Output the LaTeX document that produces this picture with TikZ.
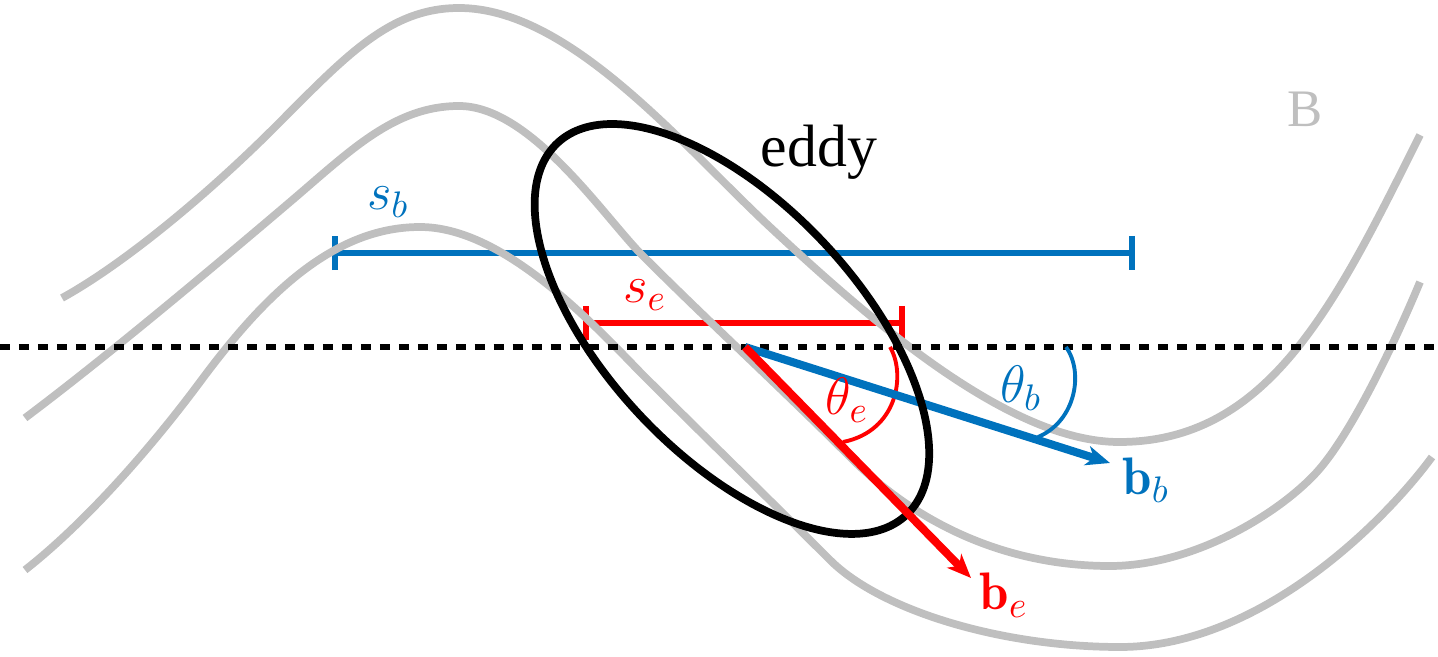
\RequirePackage{fix-cm}
\documentclass[tikz,border=0pt]{standalone}
\usepackage{fontspec}
\newfontfamily\timesfont{Liberation Serif}
\usetikzlibrary{arrows.meta}
\definecolor{fieldgray}{RGB}{191,191,191}
\definecolor{mblue}{RGB}{0,114,189}
\definecolor{mred}{RGB}{255,0,0}
\begin{document}
\begin{tikzpicture}[x=0.01cm,y=0.01cm,
  fieldline/.style={fieldgray, line width=2.2pt},
  refline/.style={black, line width=1.6pt, dash pattern=on 2.8pt off 2.6pt},
  scalebar/.style={line width=1.7pt, {Bar[width=9.7pt]}-{Bar[width=9.7pt]}},
  vec/.style={line width=2.3pt, -{Stealth[length=6.8pt,width=5.6pt,inset=2pt]}},
  anglearc/.style={line width=1.1pt},
  eddyline/.style={black, line width=2.2pt},
  mathlbl/.style={font=\fontsize{15}{18}\selectfont, inner sep=0pt},
  textlbl/.style={font=\timesfont\fontsize{17}{20}\selectfont, inner sep=0pt}]
\useasboundingbox (0,0) rectangle (1438,657);
% named points
\coordinate (O) at (745,310);
\coordinate (Bb) at (1110,194);
\coordinate (Be) at (971,79);
\coordinate (dl) at (0,310);
\coordinate (dr) at (1438,310);
\coordinate (sbl) at (332,404);
\coordinate (sbr) at (1135,404);
\coordinate (sel) at (583,334);
\coordinate (ser) at (905,334);
\coordinate (E) at (732,328);
% scale bars
\draw[scalebar, mblue] (sbl) -- (sbr);
\draw[scalebar, mred] (sel) -- (ser);
% field lines
\draw[fieldline] (62,359) .. controls (122,392) and (205,460) .. (275,530)
  .. controls (345,600) and (389,649) .. (459,649)
  .. controls (569,649) and (680,514) .. (770,430)
  .. controls (870,337) and (1009,215) .. (1119,215)
  .. controls (1269,215) and (1335,352) .. (1420,522);
\draw[fieldline] (25,239) .. controls (105,299) and (210,387) .. (290,455)
  .. controls (350,506) and (394,551) .. (459,551)
  .. controls (529,551) and (600,446) .. (640,404)
  .. controls (710,334) and (780,270) .. (850,200)
  .. controls (920,130) and (1010,91) .. (1110,91)
  .. controls (1190,91) and (1275,140) .. (1316,184)
  .. controls (1351,222) and (1395,315) .. (1420,375);
\draw[fieldline] (25,87) .. controls (80,130) and (145,201) .. (200,275)
  .. controls (260,356) and (330,430) .. (420,430)
  .. controls (500,430) and (585,342) .. (640,285)
  .. controls (700,225) and (770,157) .. (830,97)
  .. controls (880,47) and (1000,10) .. (1120,10)
  .. controls (1260,10) and (1385,136) .. (1432,200);
% reference line
\draw[refline] (dl) -- (dr);
% angle arcs
\coordinate (ae0) at (890,310);
\coordinate (ae1) at (843,215);
\coordinate (ab0) at (1066,310);
\coordinate (ab1) at (1038,220);
\draw[anglearc, mred] (ae0) .. controls (906,283) and (898,226) .. (ae1);
\draw[anglearc, mblue] (ab0) .. controls (1084,285) and (1076,236) .. (ab1);
% blue vector
\draw[vec, mblue] (O) -- (Bb);
% eddy
\draw[eddyline, rotate around={-46.8:(E)}] (E) ellipse [x radius=255, y radius=126];
% red vector
\draw[vec, mred] (O) -- (Be);
% labels
\node[mathlbl, text=mblue] (lsb) at (388,455) {$s_b$};
\node[mathlbl, text=mred] (lse) at (645,362) {$s_e$};
\node[mathlbl, text=mred] (lte) at (847,257) {$\theta_e$};
\node[mathlbl, text=mblue] (ltb) at (1021,269) {$\theta_b$};
\node[mathlbl, text=mblue] (lbb) at (1146,177) {$\mathbf{b}_b$};
\node[mathlbl, text=mred] (lbe) at (1004,62) {$\mathbf{b}_e$};
\node[textlbl, anchor=base] (leddy) at (819,490) {eddy};
\node[textlbl, text=fieldgray, anchor=base, font=\timesfont\fontsize{15}{18}\selectfont] (lB) at (1305,530) {B};
\end{tikzpicture}
\end{document}
